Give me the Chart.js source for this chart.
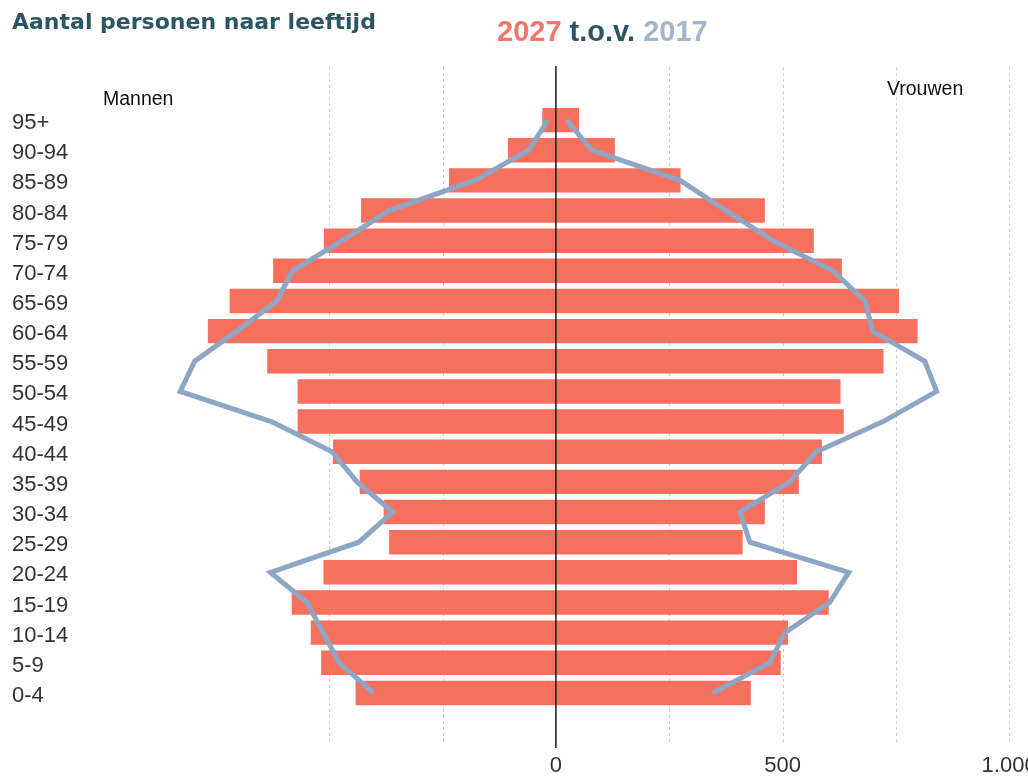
<!DOCTYPE html>
<html><head><meta charset="utf-8">
<script src="https://cdn.jsdelivr.net/npm/chart.js@4"></script>
<style>
html,body{margin:0;padding:0;background:#fff;overflow:hidden;}
#wrap{position:relative;width:1028px;height:776px;overflow:hidden;}
canvas{position:absolute;left:0;top:0;}
.t{position:absolute;white-space:nowrap;font-family:"Liberation Sans",Arial,sans-serif;}
#t1{left:12px;top:9px;font-size:22px;font-weight:bold;color:#2b5565;font-family:"DejaVu Sans",sans-serif;}
#t2{left:497px;top:15px;font-size:29px;font-weight:bold;color:#2b5565;font-family:"Liberation Sans Narrow","Liberation Sans",sans-serif;}
#m{left:103px;top:87px;font-size:19.5px;color:#111;}
#v{left:887px;top:77px;font-size:19.5px;color:#111;}
</style></head>
<body><div id="wrap">
<canvas id="c" width="1028" height="776"></canvas>
<div class="t" id="t1">Aantal personen naar leeftijd</div>
<div class="t" id="t2"><span style="color:#f0786a">2027</span> t.o.v. <span style="color:#a3b5cc">2017</span></div>
<div class="t" id="m">Mannen</div>
<div class="t" id="v">Vrouwen</div>
</div>
<script>
const ageGroups = ["95+","90-94","85-89","80-84","75-79","70-74","65-69","60-64","55-59","50-54","45-49","40-44","35-39","30-34","25-29","20-24","15-19","10-14","5-9","0-4"];
const men2027   = [30,106,236,430,512,624,720,768,637,570,570,492,433,380,368,513,583,541,518,442];
const women2027 = [51,130,275,461,569,631,757,798,723,628,635,587,536,461,412,532,602,512,496,430];
const men2017   = [18,60,179,368,472,581,616,704,797,829,628,494,439,360,435,630,549,514,478,403];
const women2017 = [24,79,274,375,479,611,682,699,814,840,722,575,516,406,428,646,604,505,472,346];
const gridValues = [-500,-250,250,500,750,1000];
const tickValues = [-500,-250,0,250,500,750,1000];
const tickLabels = {0:"0",500:"500",1000:"1.000"};

const barColor = "#f7705d";
const lineColor = "#8ea6c6";

const gridPlugin = {
  id:"gridPlugin",
  beforeDatasetsDraw(chart){
    const ctx = chart.ctx, xs = chart.scales.x;
    ctx.save();
    ctx.strokeStyle = "#cfcfcf"; ctx.lineWidth = 1; ctx.setLineDash([3,3]);
    gridValues.forEach(v=>{
      const x = Math.round(xs.getPixelForValue(v))+0.5;
      ctx.beginPath(); ctx.moveTo(x,67); ctx.lineTo(x,745); ctx.stroke();
    });
    ctx.restore();
  },
  afterDatasetsDraw(chart){
    const ctx = chart.ctx, xs = chart.scales.x;
    ctx.save();
    ctx.strokeStyle = "#1a1a1a"; ctx.lineWidth = 1.5;
    const x = xs.getPixelForValue(0);
    ctx.beginPath(); ctx.moveTo(x,66); ctx.lineTo(x,748); ctx.stroke();
    ctx.restore();
  }
};

new Chart(document.getElementById("c"), {
  type:"bar",
  data:{
    labels: ageGroups,
    datasets:[
      {type:"line", label:"Mannen 2017", data: men2017.map(v=>-v), borderColor:lineColor, borderWidth:5, pointRadius:0, fill:false, tension:0, order:0},
      {type:"line", label:"Vrouwen 2017", data: women2017, borderColor:lineColor, borderWidth:5, pointRadius:0, fill:false, tension:0, order:0},
      {label:"Mannen 2027", data: men2027.map(v=>-v), backgroundColor:barColor, grouped:false, categoryPercentage:1, barPercentage:0.81, order:1},
      {label:"Vrouwen 2027", data: women2027, backgroundColor:barColor, grouped:false, categoryPercentage:1, barPercentage:0.81, order:1}
    ]
  },
  options:{
    indexAxis:"y",
    responsive:false,
    animation:false,
    layout:{padding:{left:12,right:8,top:105,bottom:0}},
    plugins:{legend:{display:false},tooltip:{enabled:false},title:{display:false}},
    scales:{
      x:{
        type:"linear", min:-1006, max:1024,
        grid:{display:false}, border:{display:false},
        afterBuildTicks(scale){ scale.ticks = tickValues.map(v=>({value:v})); },
        afterFit(scale){ scale.height = 68; scale.paddingLeft = 0; scale.paddingRight = 0; },
        ticks:{ autoSkip:false, maxRotation:0, padding:37, color:"#333",
          font:{family:"Liberation Sans", size:22},
          callback:(v)=> (tickLabels[v] !== undefined ? tickLabels[v] : "") }
      },
      y:{
        type:"category", offset:true,
        grid:{display:false}, border:{display:false},
        afterFit(scale){ scale.width = 88; },
        ticks:{ crossAlign:"far", padding:0, labelOffset:3, color:"#333", autoSkip:false,
          font:{family:"Liberation Sans", size:22} }
      }
    }
  },
  plugins:[gridPlugin]
});
</script>
</body></html>
